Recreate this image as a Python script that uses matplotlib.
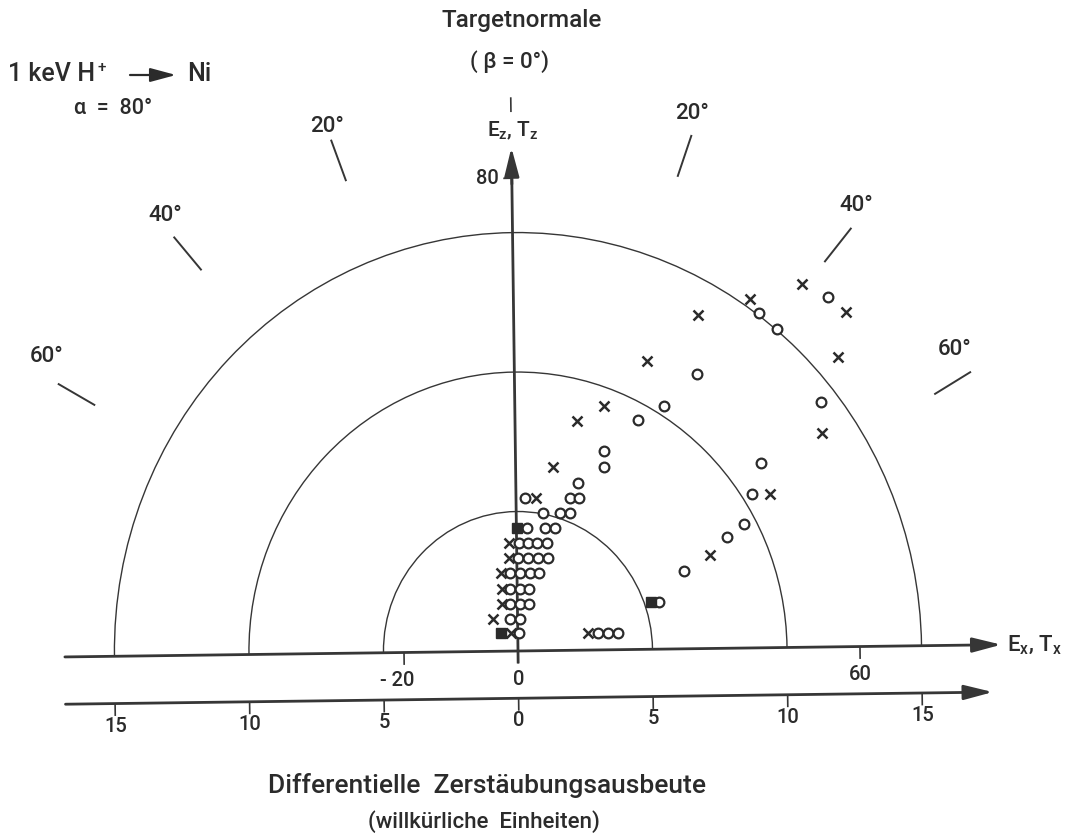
import matplotlib
matplotlib.use("Agg")
import numpy as np
import matplotlib.pyplot as plt
from matplotlib.patches import Arc, FancyArrowPatch
from matplotlib.transforms import Affine2D

# ---------------- data (E_x, E_z in the units of the E-axes) ----------------
circle_x = [0.3, 14.1, 15.9, 17.6,
            -1.3, 0.5,
            -1.25, 0.45, 2.1,
            -1.2, 0.5, 2.15,
            -1.2, 0.5, 2.2, 3.8,
            0.25, 1.95, 3.65, 5.4,
            0.4, 2.0, 3.65, 5.3,
            1.8, 4.95, 6.7,
            4.7, 7.7, 9.4,
            1.6, 9.4, 11.1,
            10.9,
            15.55, 15.6,
            21.5, 26.2,
            32.1,
            43.1, 46.1,
            55.2,
            53.7,
            43.05, 41.35,
            39.9, 36.9,
            29.3,
            24.85]
circle_z = [3.05, 2.85, 2.85, 2.85,
            5.45, 5.4,
            7.95, 7.95, 7.95,
            10.55, 10.55, 10.5,
            13.2, 13.2, 13.15, 13.15,
            15.75, 15.7, 15.7, 15.65,
            18.25, 18.25, 18.25, 18.2,
            20.8, 20.75, 20.75,
            23.35, 23.3, 23.3,
            25.8, 25.7, 25.7,
            28.3,
            31.0, 33.65,
            38.8, 41.2,
            46.5,
            56.6, 53.9,
            59.2,
            41.4,
            31.2, 26.0,
            20.95, 18.85,
            13.2,
            8.05]

cross_x = [-1.2, 12.35, -4.25, -2.75, -2.7, -2.75, -1.4, -1.35,
           3.45, 6.55, 10.9, 15.65, 23.35, 32.3, 41.45, 50.65,
           58.3, 56.75, 53.9, 44.55, 33.9]
cross_z = [3.05, 2.9, 5.45, 8.0, 10.6, 13.25, 15.75, 18.3,
           25.8, 31.05, 38.8, 41.2, 48.75, 56.45, 59.0, 61.5,
           56.6, 49.0, 36.15, 25.95, 15.8]

square_x = [-2.95, 0.15, 23.4]
square_z = [3.1, 20.8, 8.05]

yield_radii = [5, 10, 15]
yield_ticks = [-15, -10, -5, 0, 5, 10, 15]
yield_labels = ["15", "10", "5", "0", "5", "10", "15"]
ex_ticks = [-20, 0, 60]
ex_labels = ["- 20", "0", "60"]
ez_ticks = [80]
ez_labels = ["80"]
angle_marks = [20, 40, 60]

# E-axis units per unit of sputter yield (scale of the reference circles)
K = 4.72

# ---------------- style ----------------
plt.rcParams["font.family"] = ["Roboto", "DejaVu Sans"]
plt.rcParams["font.weight"] = "medium"
plt.rcParams["mathtext.fontset"] = "custom"
plt.rcParams["mathtext.rm"] = "Roboto:medium"
plt.rcParams["mathtext.it"] = "Roboto:medium"
plt.rcParams["mathtext.default"] = "regular"
ink = "#2b2b2b"
line_ink = "#363636"

W, H = 1068, 835
fig = plt.figure(figsize=(W / 100, H / 100), dpi=100)
fig.patch.set_facecolor("white")
ax = fig.add_axes([0, 0, 1, 1])
ax.set_xlim(-518 / 5.7, (W - 518) / 5.7)
ax.set_ylim((651 - H) / 5.91, 651 / 5.91)
ax.axis("off")

# the drawing sits slightly turned on the sheet
tilt = Affine2D().rotate_deg_around(518, H - 651, 0.75)
tr = ax.transData + tilt


def seg(x, z, lw=1.2, color=line_ink):
    ax.plot(x, z, color=color, lw=lw, transform=tr, solid_capstyle="butt")


def label(x, z, s, size, ha="center", va="center"):
    ax.text(x, z, s, fontsize=size, ha=ha, va=va, color=ink, transform=tr)


arrow_kw = dict(arrowstyle="-|>,head_length=1.25,head_width=0.32",
                color=line_ink, lw=2.0, shrinkA=0, shrinkB=0, mutation_scale=14)

# reference semicircles (sputter yield 5, 10, 15)
for r in yield_radii:
    ax.add_patch(Arc((0, 0), 2 * r * K, 2 * r * K, theta1=0, theta2=180,
                     transform=tr, color=line_ink, lw=1.0))

# upper horizontal axis E_x, T_x
ax.annotate("", xy=(84.8, 0), xytext=(-79.5, 0), xycoords=tr, textcoords=tr,
            arrowprops=arrow_kw)
for t, s in zip(ex_ticks, ex_labels):
    seg([t, t], [0, -2.1], lw=1.2)
    label(t - (1.3 if t < 0 else 0), -4.8, s, 14.5)
label(85.8, -0.2, r"E$_x$, T$_x$", 16, ha="left")

# lower horizontal axis: sputter yield
zl = -8.0
ax.annotate("", xy=(83.2, zl), xytext=(-79.5, zl), xycoords=tr, textcoords=tr,
            arrowprops=arrow_kw)
for t, s in zip(yield_ticks, yield_labels):
    seg([t * K, t * K], [zl, zl - 2.1], lw=1.2)
    label(t * K, zl - 3.8, s, 14.5)

# vertical axis E_z, T_z (target normal)
seg([0, 0], [-2.1, 80], lw=2.0)
ax.annotate("", xy=(0, 85.2), xytext=(0, 79), xycoords=tr, textcoords=tr,
            arrowprops=arrow_kw)
for t, s in zip(ez_ticks, ez_labels):
    seg([-1.5, 0], [t, t], lw=1.2)
    label(-2.3, t, s, 14.5, ha="right")
seg([0, 0], [91.2, 93.7], lw=1.2)
label(0.3, 88.0, r"E$_z$, T$_z$", 15)

# direction marks at 20, 40, 60 degrees on both sides
label_pos = {(-20): (-32.3, 89.1), 20: (31.7, 90.6),
             (-40): (-60.8, 74.4), 40: (60.3, 74.6),
             (-60): (-82.0, 50.9), 60: (77.2, 50.0)}
for a in angle_marks:
    for sgn in (-1, 1):
        th = np.deg2rad(a)
        r0, r1 = 85.0, 92.5
        seg([sgn * r0 * np.sin(th), sgn * r1 * np.sin(th)],
            [r0 * np.cos(th), r1 * np.cos(th)], lw=1.4)
        lx, lz = label_pos[sgn * a]
        label(lx, lz, f"{a}°", 16)

# measured points
ax.plot(circle_x, circle_z, "o", ms=7.0, mfc="white", mec=ink, mew=1.6,
        transform=tr, zorder=3)
ax.plot(cross_x, cross_z, "x", ms=6.8, mec=ink, mew=1.8, transform=tr, zorder=4)
ax.plot(square_x, square_z, "s", ms=7.0, mfc=ink, mec=ink, transform=tr, zorder=4)


# headings and captions
def ftext(px, py, s, size, ha="center", **kw):
    fig.text(px / W, 1 - py / H, s, fontsize=size, ha=ha, va="center",
             color=ink, **kw)


ftext(522, 20, "Targetnormale", 17.5)
ftext(510, 62, "( β = 0°)", 16)
ftext(8, 74, "1 keV H", 18, ha="left")
ftext(98, 68, "+", 11, ha="left")
ftext(187, 74, "Ni", 18, ha="left")
fig.add_artist(FancyArrowPatch(
    (130 / W, 1 - 75 / H), (176 / W, 1 - 75 / H), transform=fig.transFigure,
    arrowstyle="-|>,head_length=1.3,head_width=0.35", mutation_scale=12,
    color=ink, lw=1.6, shrinkA=0, shrinkB=0))
ftext(74, 108, "α  =  80°", 15.5, ha="left")
ftext(487, 786, "Differentielle  Zerstäubungsausbeute", 19)
ftext(484, 822, "(willkürliche  Einheiten)", 16)

fig.savefig("out.png", dpi=100, facecolor="white")
